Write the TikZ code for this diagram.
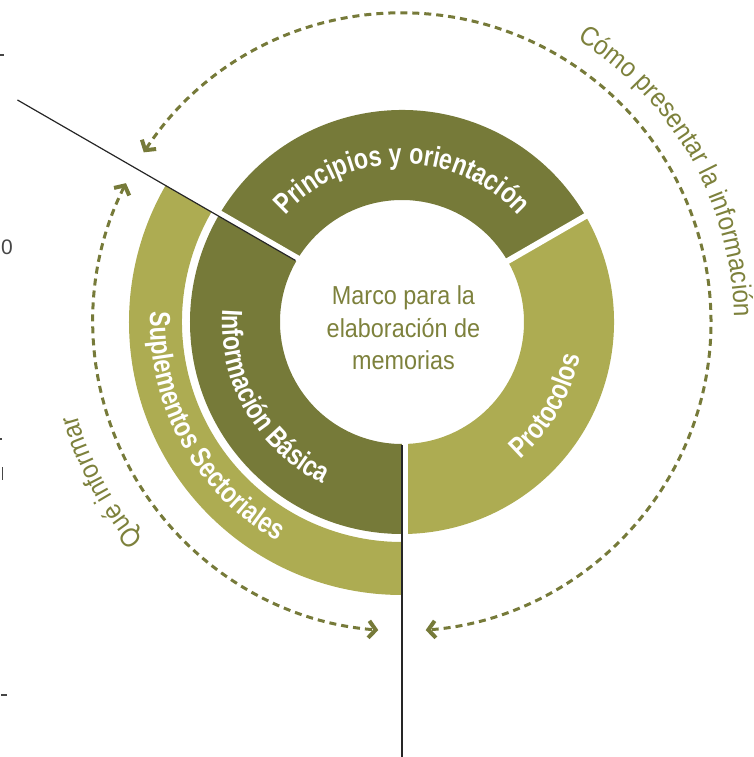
\documentclass[tikz,border=0pt]{standalone}
\usepackage{fontspec}
\setmainfont{Liberation Sans}
\newfontfamily\regcond[FakeStretch=0.9]{Liberation Sans}
\newfontfamily\boldcond[FakeStretch=0.8]{Liberation Sans}
\usetikzlibrary{decorations.text,arrows.meta}
\definecolor{darkol}{RGB}{118,122,57}
\definecolor{lightol}{RGB}{173,172,82}
\definecolor{textol}{RGB}{125,129,60}
\definecolor{strayg}{RGB}{70,70,70}
\begin{document}
\begin{tikzpicture}[x=1pt,y=1pt,
  ringlabel/.style={decorate, decoration={text along path, text align=center, text color=white,
     text={|\boldcond\bfseries\fontsize{29}{29}\selectfont|#1}}},
  outerlabel/.style={decorate, decoration={text along path, text align=center, text color=textol,
     text={|\regcond\fontsize{27}{27}\selectfont|#1}}},
  gapline/.style={white, line width=6pt},
  axisline/.style={black!85, line width=1.2pt},
  dashol/.style={darkol, line width=3pt, dash pattern=on 7pt off 5pt,
     arrows={Straight Barb[length=7pt,width=17pt,line width=4pt]-Straight Barb[length=7pt,width=17pt,line width=4pt]}},
  stray/.style={fill=strayg}
]
\useasboundingbox (-402,-435) rectangle (351,322);

% inner ring sectors
\fill[darkol] (30:122) arc[start angle=30,end angle=150,radius=122] -- (150:212) arc[start angle=150,end angle=30,radius=212] -- cycle;
\fill[darkol] (150:122) arc[start angle=150,end angle=270,radius=122] -- (270:212) arc[start angle=270,end angle=150,radius=212] -- cycle;
\fill[lightol] (-90:122) arc[start angle=-90,end angle=30,radius=122] -- (30:212) arc[start angle=30,end angle=-90,radius=212] -- cycle;
% outer ring
\fill[lightol] (150:220) arc[start angle=150,end angle=270,radius=220] -- (270:273) arc[start angle=270,end angle=150,radius=273] -- cycle;

% gaps
\draw[gapline] ([shift={(60:3)}]150:110) -- ([shift={(60:3)}]150:216);
\draw[gapline] ([shift={(0:3)}]270:110) -- ([shift={(0:3)}]270:216);
\draw[gapline] (30:110) -- (30:216);

% black radial lines
\coordinate (l1a) at (150:123);
\coordinate (l1b) at (150:444);
\coordinate (l2a) at (270:123);
\coordinate (l2b) at (270:440);
\draw[axisline] (l1a) -- (l1b);
\draw[axisline] (l2a) -- (l2b);

% dashed arcs
\draw[dashol] (146.7:309) arc[start angle=146.7,end angle=-85.6,radius=309];
\draw[dashol] (153.3:309) arc[start angle=153.3,end angle=265.6,radius=309];

% ring labels
\path[ringlabel={Principios y orientación}] (150:158) arc[start angle=150,end angle=30,radius=158];
\path[ringlabel={Protocolos}] (270:181) arc[start angle=270,end angle=390,radius=181];
\path[ringlabel={Información Básica}] (150:180) arc[start angle=150,end angle=270,radius=180];
\path[ringlabel={Suplementos Sectoriales}] (148:252) arc[start angle=148,end angle=270,radius=252];

% outer labels
\path[outerlabel={Cómo presentar la información}] (89.5:332) arc[start angle=89.5,end angle=-30.5,radius=332];
\path[outerlabel={Qué informar}] (258:338) arc[start angle=258,end angle=158,radius=338];

% center text
\node[text=textol, align=center, font=\regcond\fontsize{26}{32.5}\selectfont, inner sep=0pt] (center) at (1.5,-6)
  {Marco para la\\elaboración de\\memorias};

% stray marks at the left border
\node[text=strayg, font=\fontsize{21}{21}\selectfont, inner sep=0pt] (strayzero) at (-395,75) {0};
\fill[stray] (-402,268) rectangle (-398,266);
\fill[stray] (-401,-372) rectangle (-395,-374);
\fill[stray] (-402,-116) rectangle (-400,-118);
\fill[stray] (-400.3,-145) rectangle (-398.7,-158);
\end{tikzpicture}
\end{document}
